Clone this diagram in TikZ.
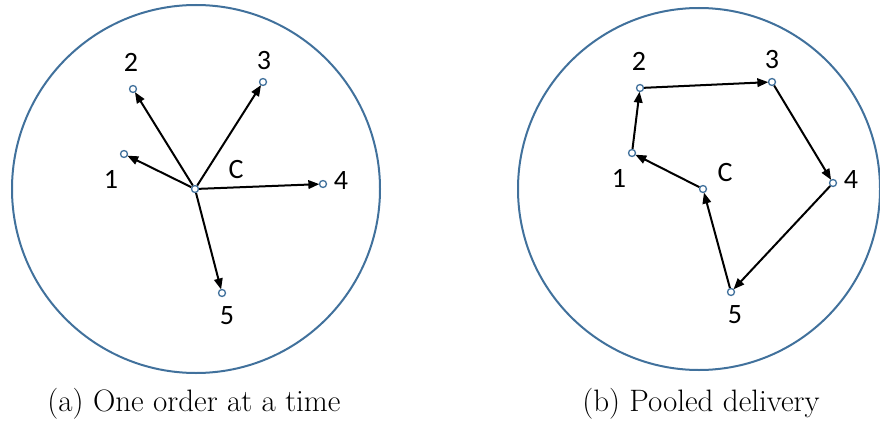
\documentclass[tikz,border=0pt]{standalone}
\usepackage{fontspec}
\newfontfamily\lblfont{Carlito}
\usetikzlibrary{arrows.meta}
\definecolor{ringblue}{RGB}{65,113,156}
\begin{document}
\begin{tikzpicture}[x=1pt,y=-1pt,
  ring/.style={draw=ringblue,line width=2pt},
  pt/.style={circle,draw=ringblue,fill=white,line width=1.3pt,inner sep=0pt,minimum size=7pt},
  lbl/.style={font=\lblfont\fontsize{28}{30}\selectfont,inner sep=0pt},
  captext/.style={font=\fontsize{31}{34}\selectfont,inner sep=0pt},
  arr/.style={-{Triangle[length=11pt,width=8.5pt]},line width=2pt,shorten >=-0.5pt}]
\useasboundingbox (0,0) rectangle (880,428);
% ---------- (a) ----------
\draw[ring] (196,189) circle (184);
\node[pt] (aC) at (195,189) {};
\node[pt] (a1) at (124,154) {};
\node[pt] (a2) at (133,89) {};
\node[pt] (a3) at (263,82) {};
\node[pt] (a4) at (323,184) {};
\node[pt] (a5) at (222,293) {};
\node[lbl] (la1) at (111,179) {1};
\node[lbl] (la2) at (131,62) {2};
\node[lbl] (la3) at (264,61) {3};
\node[lbl] (la4) at (341,181) {4};
\node[lbl] (la5) at (227,316) {5};
\node[lbl] (laC) at (236,170) {C};
\foreach \t in {a1,a2,a3,a4,a5} \draw[arr] (aC) -- (\t);
\node[captext] (capa) at (194,404) {(a) One order at a time};
% ---------- (b) ----------
\draw[ring] (699,189) circle (181);
\node[pt] (bC) at (703,189) {};
\node[pt] (b1) at (632,153) {};
\node[pt] (b2) at (640,88) {};
\node[pt] (b3) at (772,82) {};
\node[pt] (b4) at (833,183) {};
\node[pt] (b5) at (731,292) {};
\node[lbl] (lb1) at (619,178) {1};
\node[lbl] (lb2) at (639,61) {2};
\node[lbl] (lb3) at (772,60) {3};
\node[lbl] (lb4) at (851,180) {4};
\node[lbl] (lb5) at (735,315) {5};
\node[lbl] (lbC) at (725,173) {C};
\draw[arr] (bC) -- (b1);
\draw[arr] (b1) -- (b2);
\draw[arr] (b2) -- (b3);
\draw[arr] (b3) -- (b4);
\draw[arr] (b4) -- (b5);
\draw[arr] (b5) -- (bC);
\node[captext] (capb) at (701,404) {(b) Pooled delivery};
\end{tikzpicture}
\end{document}
